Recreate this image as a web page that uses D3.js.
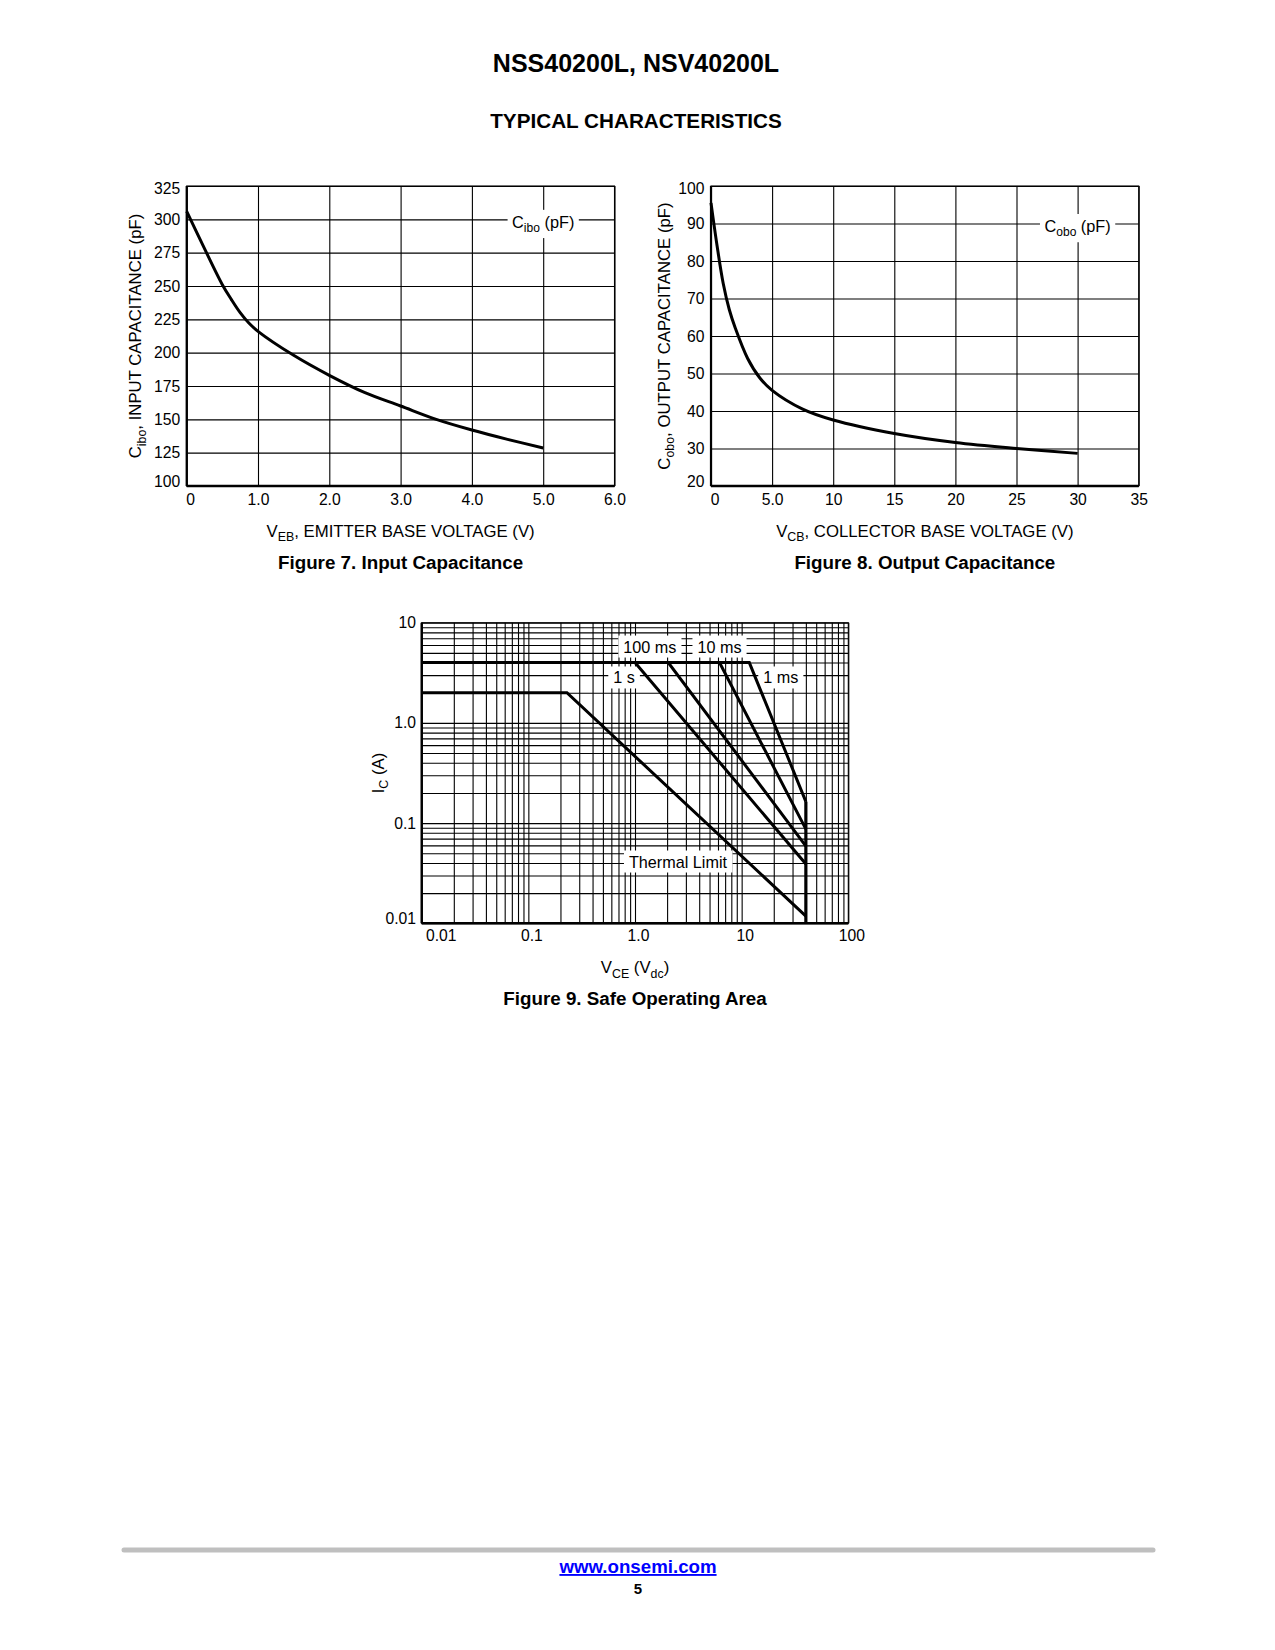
<!DOCTYPE html>
<html>
<head>
<meta charset="utf-8">
<script src="https://cdn.jsdelivr.net/npm/d3@7"></script>
<style>
body { margin: 0; background: #fff; }
svg text { font-family: "Liberation Sans", Arial, Helvetica, sans-serif; fill: #000; }
</style>
</head>
<body>
<svg id="page" width="1275" height="1650"></svg>
<script>
// Figure 7 - input capacitance
var cibV = [0, 0.25, 0.5, 0.625, 0.75, 0.875, 1.0, 1.5, 2.0, 2.5, 3.0, 3.5, 4.0, 4.5, 5.0];
var cibC = [306, 278, 251, 240, 230, 222, 216, 198, 183, 170, 160, 150, 142, 135, 128.5];
var fig7XTicks = [0, 1, 2, 3, 4, 5, 6];
var fig7XLabels = ["0", "1.0", "2.0", "3.0", "4.0", "5.0", "6.0"];
var fig7YTicks = [100, 125, 150, 175, 200, 225, 250, 275, 300, 325];

// Figure 8 - output capacitance
var cobV = [0, 0.5, 1, 1.5, 2, 3, 4, 5, 7.5, 10, 15, 20, 25, 30];
var cobC = [95.5, 84, 74, 67, 62, 54, 48.8, 45.5, 40.5, 37.6, 34, 31.6, 30, 28.7];
var fig8XTicks = [0, 5, 10, 15, 20, 25, 30, 35];
var fig8XLabels = ["0", "5.0", "10", "15", "20", "25", "30", "35"];
var fig8YTicks = [20, 30, 40, 50, 60, 70, 80, 90, 100];

// Figure 9 - safe operating area
var soaNames = ["1 s", "100 ms", "10 ms", "1 ms"];
var soaBreakV = [1.0, 2.05, 6.2, 11.8];   // where each pulse line leaves the 4 A limit
var soaEndI = [0.039, 0.059, 0.087, 0.164]; // current at 40 V
var soaMaxI = 4;
var soaMaxV = 40;
var thermalV = [0.01, 0.23, 40];
var thermalI = [2, 2, 0.0118];
var soaXTicks = [0.01, 0.1, 1, 10, 100];
var soaXLabels = ["0.01", "0.1", "1.0", "10", "100"];
var soaYTicks = [0.01, 0.1, 1, 10];
var soaYLabels = ["0.01", "0.1", "1.0", "10"];

var svg = d3.select("#page");

// page titles
svg.append("text").attr("x", 636).attr("y", 71.5).attr("text-anchor", "middle")
	.attr("font-size", 25).attr("font-weight", "bold").text("NSS40200L, NSV40200L");
svg.append("text").attr("x", 636).attr("y", 127.5).attr("text-anchor", "middle")
	.attr("font-size", 20.7).attr("font-weight", "bold").text("TYPICAL CHARACTERISTICS");

// text with subscripts: parts = [[str, isSub], ...]
function subText(t, parts, size) {
	var wasSub = false;
	parts.forEach(function(p) {
		var s = t.append("tspan").text(p[0]);
		if (p[1]) {
			s.attr("font-size", size * 0.74).attr("dy", size * 0.26);
			wasSub = true;
		} else if (wasSub) {
			s.attr("font-size", size).attr("dy", -size * 0.26);
			wasSub = false;
		}
	});
	return t;
}

function cleanGrid(a) {
	a.select(".domain").remove();
	a.selectAll("line").attr("stroke", "#000").attr("stroke-width", 1.1);
}

function fontAxis(a, size) {
	a.select(".domain").remove();
	a.attr("font-size", size).attr("font-family", null);
	a.selectAll("text").attr("fill", "#000");
}

function labelBox(g, t, px, py) {
	var bb = t.node().getBBox();
	g.insert("rect", function() { return t.node(); })
		.attr("x", bb.x - px).attr("y", bb.y - py)
		.attr("width", bb.width + 2 * px).attr("height", bb.height + 2 * py)
		.attr("fill", "#fff");
}

function capChart(o) {
	var g = svg.append("g").attr("transform", "translate(" + o.left + "," + o.top + ")");
	var x = d3.scaleLinear().domain(o.xDomain).range([0, o.w]);
	var y = d3.scaleLinear().domain(o.yDomain).range([o.h, 0]);

	g.append("g").attr("transform", "translate(0," + o.h + ")")
		.call(d3.axisBottom(x).tickValues(o.xTicks).tickSize(-o.h).tickFormat(""))
		.call(cleanGrid);
	g.append("g")
		.call(d3.axisLeft(y).tickValues(o.yTicks).tickSize(-o.w).tickFormat(""))
		.call(cleanGrid);
	g.append("rect").attr("width", o.w).attr("height", o.h)
		.attr("fill", "none").attr("stroke", "#000").attr("stroke-width", 1.1);
	g.append("line").attr("x1", 0).attr("x2", 0).attr("y1", 0).attr("y2", o.h)
		.attr("stroke", "#000").attr("stroke-width", 2.2);
	g.append("line").attr("x1", 0).attr("x2", o.w).attr("y1", o.h).attr("y2", o.h)
		.attr("stroke", "#000").attr("stroke-width", 2.4);

	// legend on the grid
	var lg = g.append("g");
	var lt = lg.append("text").attr("x", x(o.legend.x)).attr("y", y(o.legend.y) + 8.5)
		.attr("text-anchor", "middle").attr("font-size", 16.3);
	subText(lt, o.legend.parts, 16.3);
	labelBox(lg, lt, 4.5, 3);

	var line = d3.line().x(function(d) { return x(d[0]); }).y(function(d) { return y(d[1]); })
		.curve(d3.curveCatmullRom.alpha(0.5));
	g.append("path").attr("d", line(d3.zip(o.xs, o.ys)))
		.attr("fill", "none").attr("stroke", "#000").attr("stroke-width", 3);

	// tick labels
	var ax = g.append("g").attr("transform", "translate(0," + o.h + ")")
		.call(d3.axisBottom(x).tickValues(o.xTicks).tickSize(0).tickPadding(8)
			.tickFormat(function(d, i) { return o.xLabels[i]; }));
	fontAxis(ax, 15.7);
	ax.selectAll("text").filter(function(d, i) { return i === 0; }).attr("dx", 3.5);
	var ay = g.append("g")
		.call(d3.axisLeft(y).tickValues(o.yTicks).tickSize(0).tickPadding(6.5));
	fontAxis(ay, 15.7);
	ay.selectAll("text").filter(function(d, i) { return i === 0; }).attr("dy", "0.0em");
	ay.selectAll("text").filter(function(d, i) { return i === o.yTicks.length - 1; }).attr("dy", "0.45em");

	// axis titles
	var xt = g.append("text").attr("x", o.w / 2).attr("y", o.h + 51)
		.attr("text-anchor", "middle").attr("font-size", 16.75);
	subText(xt, o.xTitle, 16.75);
	var yt = g.append("text").attr("transform", "translate(" + o.yTitleX + "," + (o.h / 2) + ") rotate(-90)")
		.attr("text-anchor", "middle").attr("font-size", 16.75);
	subText(yt, o.yTitle, 16.75);

	g.append("text").attr("x", o.w / 2).attr("y", o.h + 83.3)
		.attr("text-anchor", "middle").attr("font-size", 18.8).attr("font-weight", "bold")
		.text(o.caption);
}

capChart({
	left: 186.7, top: 186, w: 427.8, h: 300,
	xDomain: [0, 6], yDomain: [100, 325],
	xTicks: fig7XTicks, xLabels: fig7XLabels, yTicks: fig7YTicks,
	xs: cibV, ys: cibC,
	legend: { x: 5.0, y: 300, parts: [["C"], ["ibo", true], [" (pF)"]] },
	xTitle: [["V"], ["EB", true], [", EMITTER BASE VOLTAGE (V)"]],
	yTitle: [["C"], ["ibo", true], [", INPUT CAPACITANCE (pF)"]],
	yTitleX: -45.5,
	caption: "Figure 7. Input Capacitance"
});

capChart({
	left: 711, top: 186, w: 427.7, h: 300,
	xDomain: [0, 35], yDomain: [20, 100],
	xTicks: fig8XTicks, xLabels: fig8XLabels, yTicks: fig8YTicks,
	xs: cobV, ys: cobC,
	legend: { x: 30, y: 90, parts: [["C"], ["obo", true], [" (pF)"]] },
	xTitle: [["V"], ["CB", true], [", COLLECTOR BASE VOLTAGE (V)"]],
	yTitle: [["C"], ["obo", true], [", OUTPUT CAPACITANCE (pF)"]],
	yTitleX: -41.5,
	caption: "Figure 8. Output Capacitance"
});

// ---- Figure 9, log-log SOA ----
(function() {
	var left = 421.7, top = 622.7, w = 426.6, h = 300.6;
	var g = svg.append("g").attr("transform", "translate(" + left + "," + top + ")");
	var x = d3.scaleLog().domain([0.01, 100]).range([0, w]);
	var y = d3.scaleLog().domain([0.01, 10]).range([h, 0]);

	g.append("g").attr("transform", "translate(0," + h + ")")
		.call(d3.axisBottom(x).tickValues(x.ticks()).tickSize(-h).tickFormat(""))
		.call(cleanGrid);
	g.append("g")
		.call(d3.axisLeft(y).tickValues(y.ticks()).tickSize(-w).tickFormat(""))
		.call(cleanGrid);
	g.append("rect").attr("width", w).attr("height", h)
		.attr("fill", "none").attr("stroke", "#000").attr("stroke-width", 1.1);
	g.append("line").attr("x1", 0).attr("x2", 0).attr("y1", 0).attr("y2", h)
		.attr("stroke", "#000").attr("stroke-width", 2.4);
	g.append("line").attr("x1", 0).attr("x2", w).attr("y1", h).attr("y2", h)
		.attr("stroke", "#000").attr("stroke-width", 2.4);

	// labels on white boxes (positions in data units)
	var notes = [
		{ t: "100 ms", v: 1.38, i: 5.76 },
		{ t: "10 ms", v: 6.2, i: 5.76 },
		{ t: "1 s", v: 0.79, i: 2.83 },
		{ t: "1 ms", v: 23.3, i: 2.83 },
		{ t: "Thermal Limit", v: 2.53, i: 0.0412 }
	];
	notes.forEach(function(n) {
		var ng = g.append("g");
		var t = ng.append("text").attr("x", x(n.v)).attr("y", y(n.i)).attr("dy", "0.36em")
			.attr("text-anchor", "middle").attr("font-size", 16.2).text(n.t);
		labelBox(ng, t, 5, 2);
	});

	var line = d3.line().x(function(d) { return x(d[0]); }).y(function(d) { return y(d[1]); });
	soaNames.forEach(function(name, k) {
		var pts = [[0.01, soaMaxI], [soaBreakV[k], soaMaxI], [soaMaxV, soaEndI[k]]];
		g.append("path").attr("d", line(pts)).attr("fill", "none")
			.attr("stroke", "#000").attr("stroke-width", 3).attr("stroke-linejoin", "miter");
	});
	g.append("path").attr("d", line(d3.zip(thermalV, thermalI))).attr("fill", "none")
		.attr("stroke", "#000").attr("stroke-width", 3);
	g.append("path").attr("d", line([[soaMaxV, d3.max(soaEndI)], [soaMaxV, 0.01]]))
		.attr("fill", "none").attr("stroke", "#000").attr("stroke-width", 3.2);

	var ax = g.append("g").attr("transform", "translate(0," + h + ")")
		.call(d3.axisBottom(x).tickValues(soaXTicks).tickSize(0).tickPadding(6.5)
			.tickFormat(function(d, i) { return soaXLabels[i]; }));
	fontAxis(ax, 15.7);
	ax.selectAll("text").attr("dx", function(d, i) { return i === 0 ? 19 : 3; });
	var ay = g.append("g")
		.call(d3.axisLeft(y).tickValues(soaYTicks).tickSize(0).tickPadding(5.7)
			.tickFormat(function(d, i) { return soaYLabels[i]; }));
	fontAxis(ay, 15.7);
	ay.selectAll("text").filter(function(d, i) { return i === 0; }).attr("dy", "0.0em");

	var xt = g.append("text").attr("x", w / 2).attr("y", h + 50)
		.attr("text-anchor", "middle").attr("font-size", 16.75);
	subText(xt, [["V"], ["CE", true], [" (V"], ["dc", true], [")"]], 16.75);
	var yt = g.append("text").attr("transform", "translate(-38," + (h / 2) + ") rotate(-90)")
		.attr("text-anchor", "middle").attr("font-size", 16.75);
	subText(yt, [["I"], ["C", true], [" (A)"]], 16.75);

	g.append("text").attr("x", w / 2).attr("y", h + 81.5)
		.attr("text-anchor", "middle").attr("font-size", 18.8).attr("font-weight", "bold")
		.text("Figure 9. Safe Operating Area");
})();

// footer
svg.append("line").attr("x1", 124).attr("x2", 1153).attr("y1", 1550).attr("y2", 1550)
	.attr("stroke", "#bfbfbf").attr("stroke-width", 5).attr("stroke-linecap", "round");
svg.append("text").attr("x", 638).attr("y", 1573).attr("text-anchor", "middle")
	.attr("font-size", 18.7).attr("font-weight", "bold").attr("text-decoration", "underline")
	.style("fill", "#0000ff").text("www.onsemi.com");
svg.append("text").attr("x", 638).attr("y", 1594).attr("text-anchor", "middle")
	.attr("font-size", 15).attr("font-weight", "bold").text("5");
</script>
</body>
</html>
